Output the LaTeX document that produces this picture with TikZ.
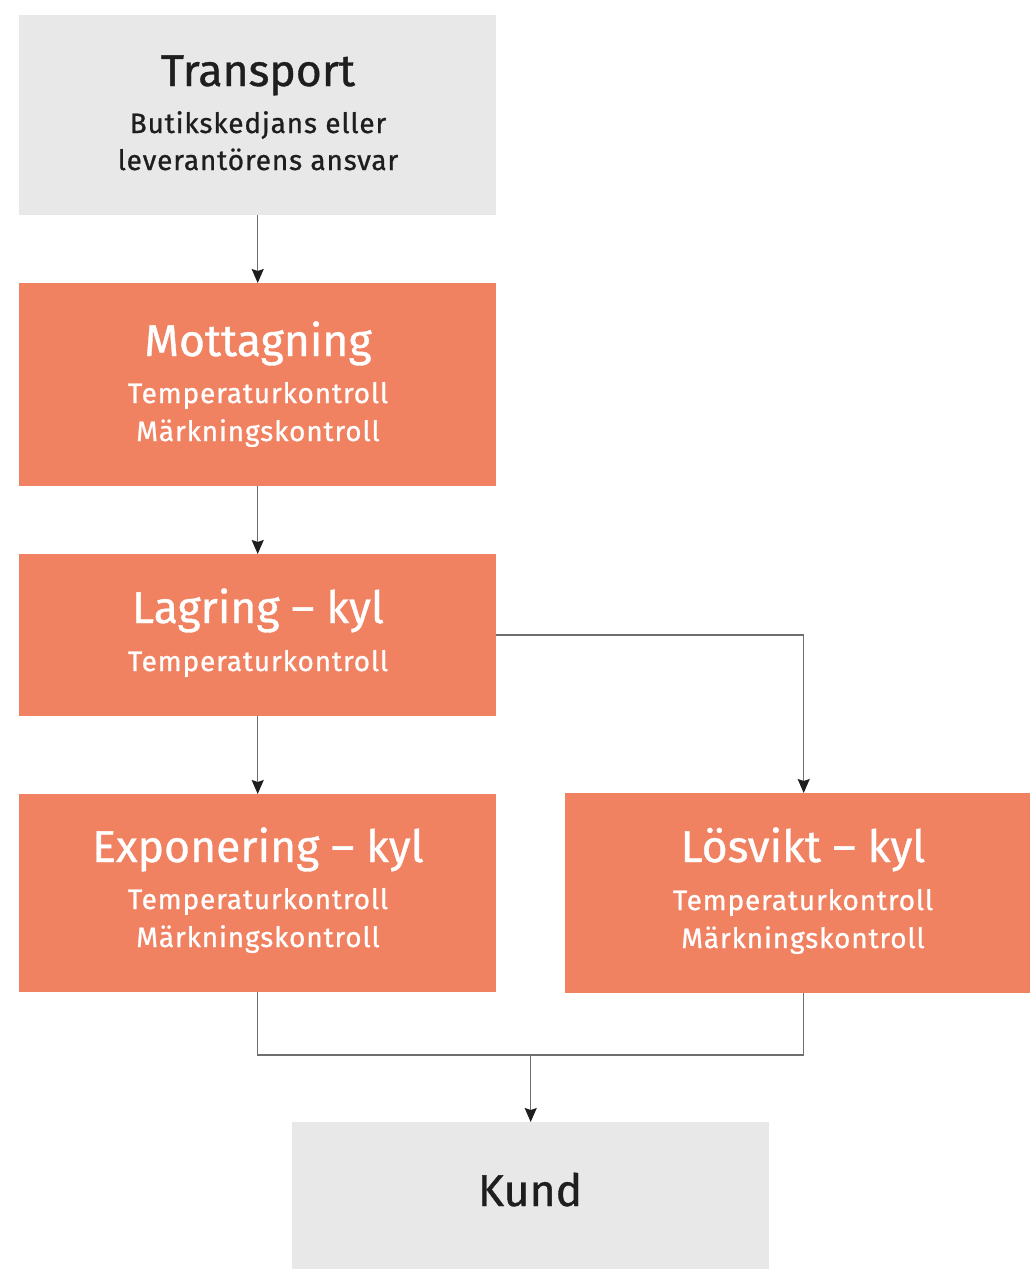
\documentclass[tikz,border=0pt]{standalone}
\usepackage{fontspec}
\setmainfont{Fira Sans}
\usetikzlibrary{arrows.meta,calc}
\definecolor{boxgray}{HTML}{E8E8E8}
\definecolor{boxorange}{HTML}{F08262}
\definecolor{ink}{HTML}{1E1E1E}
\definecolor{wire}{HTML}{6E6E6E}
\newfontfamily\labelfont{Fira Sans}[FakeBold=0.8,LetterSpace=3]
\newfontfamily\headfont{Fira Sans}[FakeBold=0.8]
\begin{document}
\begin{tikzpicture}[x=1pt,y=-1pt,
  stage/.style={rectangle,inner sep=0pt,anchor=north west,minimum width=477pt},
  grey/.style={stage,fill=boxgray},
  orange/.style={stage,fill=boxorange},
  title/.style={anchor=base,inner sep=0pt,font=\headfont\fontsize{44.5}{54}\selectfont},
  sub/.style={anchor=base,inner sep=0pt,font=\labelfont\fontsize{28}{34}\selectfont},
  flow/.style={draw=wire,line width=1.5pt,-{Stealth[length=14pt,width=12pt,inset=2pt,color=ink]}},
  link/.style={draw=wire,line width=1.5pt}]
\clip (0,0) rectangle (1030,1269);
\fill[white] (0,0) rectangle (1030,1269);

% boxes
\node[grey,minimum height=200pt]   (transport)  at (19,15)   {};
\node[orange,minimum height=203pt] (mottagning) at (19,283)  {};
\node[orange,minimum height=162pt] (lagring)    at (19,554)  {};
\node[orange,minimum height=198pt] (exponering) at (19,794)  {};
\node[orange,minimum height=200pt] (losvikt)    at (565,793) {};
\node[grey,minimum height=147pt]   (kund)       at (292,1122) {};

% texts
\node[title,text=ink] (t1) at (258,86) {Transport};
\node[sub,text=ink]   (t1a) at (258,133) {Butikskedjans eller};
\node[sub,text=ink]   (t1b) at (258,170) {leverantörens ansvar};

\node[title,text=white] (t2) at (258,356) {Mottagning};
\node[sub,text=white]   (t2a) at (258,403) {Temperaturkontroll};
\node[sub,text=white]   (t2b) at (258,441) {Märkningskontroll};

\node[title,text=white] (t3) at (258,623) {Lagring – kyl};
\node[sub,text=white]   (t3a) at (258,671) {Temperaturkontroll};

\node[title,text=white] (t4) at (258,862) {Exponering – kyl};
\node[sub,text=white]   (t4a) at (258,909) {Temperaturkontroll};
\node[sub,text=white]   (t4b) at (258,947) {Märkningskontroll};

\node[title,text=white] (t5) at (803,862) {Lösvikt – kyl};
\node[sub,text=white]   (t5a) at (803,910) {Temperaturkontroll};
\node[sub,text=white]   (t5b) at (803,948) {Märkningskontroll};

\node[title,text=ink] (t6) at (530,1206) {Kund};

% connectors
\draw[flow] (transport.south) -- (mottagning.north);
\draw[flow] (mottagning.south) -- (lagring.north);
\draw[flow] (lagring.south) -- (exponering.north);
\draw[flow] (lagring.east) -| (losvikt.north);
\coordinate (join) at (kund.north |- 0,1055);
\draw[link] (exponering.south) |- (join) -| (losvikt.south);
\draw[flow] (join) -- (kund.north);
\end{tikzpicture}
\end{document}
